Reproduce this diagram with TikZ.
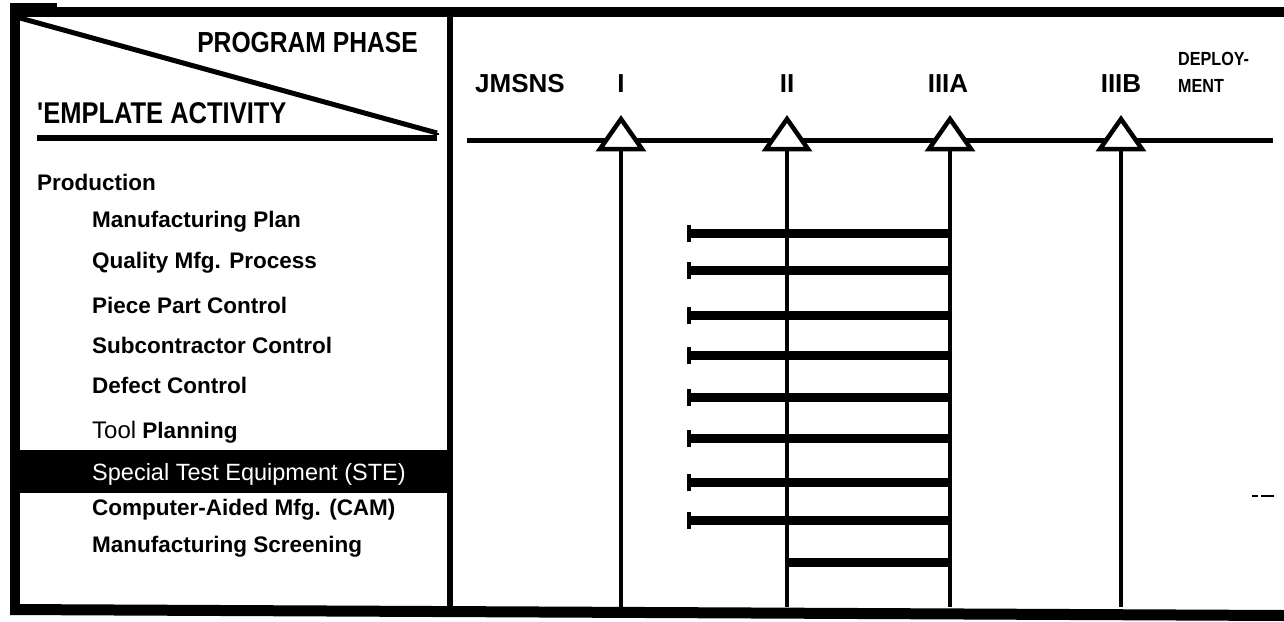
\documentclass[tikz,border=0pt]{standalone}
\usepackage{fontspec}
\newfontfamily\tmfont{Liberation Sans}
\newfontfamily\tmnarrow{Liberation Sans}[FakeStretch=0.85]
\usetikzlibrary{arrows.meta,positioning}

\begin{document}
\begin{tikzpicture}[x=1pt,y=-1pt,
    tmhead/.style={font=\tmnarrow\bfseries\fontsize{29}{34}\selectfont,inner sep=0pt},
    tmitem/.style={font=\tmfont\bfseries\fontsize{22.5}{27}\selectfont,inner sep=0pt,anchor=base west},
    tmphase/.style={font=\tmfont\bfseries\fontsize{26}{31}\selectfont,inner sep=0pt,anchor=base},
    tmsmall/.style={font=\tmnarrow\bfseries\fontsize{19}{23}\selectfont,inner sep=0pt,anchor=base west},
    tmmile/.style={draw,fill=white,line width=4.5pt},
    tmline/.style={line width=3.5pt},
    tmbar/.style={{Bar[width=17pt,line width=4pt]}-,line width=9pt}
]
\useasboundingbox (0,0) rectangle (1284,621);
% frame
\fill (10,3) rectangle (57,17);
\fill (10,7) rectangle (1284,17);
\fill (10,3) rectangle (20,614);
\fill (447,7) rectangle (453,612);
\fill (10,604) -- (1284,610) -- (1284,621) -- (10,615) -- cycle;
% corner heading
\coordinate (hdA) at (20,18);
\coordinate (hdB) at (437,133);
\coordinate (hdC) at (37,138);
\coordinate (hdD) at (437,138);
\draw[line width=5pt] (hdA) -- (hdB);
\draw[line width=6pt] (hdC) -- (hdD);
\draw[line width=3pt] (hdB) -- ([yshift=3pt]hdD);
\node[tmhead,anchor=base east] (phase) at (418,52) {PROGRAM PHASE};
\node[tmhead,font=\tmnarrow\bfseries\fontsize{30}{35}\selectfont,anchor=base west] (activity) at (37,123) {'EMPLATE ACTIVITY};
% activities
\node[tmitem] (prod) at (37,190) {Production};
\node[tmitem] (plan) at (92,227) {Manufacturing Plan};
\node[tmitem] (quality) at (92,268) {Quality Mfg. Process};
\node[tmitem] (piece) at (92,313) {Piece Part Control};
\node[tmitem] (subcon) at (92,353) {Subcontractor Control};
\node[tmitem] (defect) at (92,393) {Defect Control};
\node[tmitem] (tool) at (92,438) {{\mdseries\fontsize{24}{28}\selectfont Tool} Planning};
\fill (20,450) rectangle (447,493);
\node[tmitem,text=white,font=\tmfont\fontsize{23.5}{28}\selectfont] (ste) at (92,480) {Special Test Equipment (STE)};
\node[tmitem] (cam) at (92,515) {Computer-Aided Mfg. (CAM)};
\node[tmitem] (screen) at (92,552) {Manufacturing Screening};
% phases
\node[tmphase,anchor=base west] (jmsns) at (475,92) {JMSNS};
\node[tmphase] (phI) at (621,92) {I};
\node[tmphase] (phII) at (787,92) {II};
\node[tmphase] (phIIIA) at (948,92) {IIIA};
\node[tmphase] (phIIIB) at (1121,92) {IIIB};
\node[tmsmall] (deploy) at (1178,65) {DEPLOY-};
\node[tmsmall] (ment) at (1178,92) {MENT};
\coordinate (tlA) at (467,140);
\coordinate (tlB) at (1273,140);
\draw[line width=5pt] (tlA) -- (tlB);
\coordinate (mI) at (621,150);
\coordinate (mII) at (787,150);
\coordinate (mIIIA) at (950,150);
\coordinate (mIIIB) at (1121,150);
\coordinate (bot) at (0,607);
\draw[tmline] (mI) -- (mI |- bot);
\draw[tmline] (mII) -- (mII |- bot);
\draw[tmline] (mIIIA) -- (mIIIA |- bot);
\draw[tmline] (mIIIB) -- (mIIIB |- bot);
\draw[tmmile] (600,149) -- (621,119) -- (642,149) -- cycle;
\draw[tmmile] (766,149) -- (787,119) -- (808,149) -- cycle;
\draw[tmmile] (929,149) -- (950,119) -- (971,149) -- cycle;
\draw[tmmile] (1100,149) -- (1121,119) -- (1142,149) -- cycle;
% activity bars
\coordinate (s1) at (687,233);
\coordinate (s2) at (687,270);
\coordinate (s3) at (687,315);
\coordinate (s4) at (687,355);
\coordinate (s5) at (687,397);
\coordinate (s6) at (687,438);
\coordinate (s7) at (687,482);
\coordinate (s8) at (687,520);
\coordinate (s9) at (787,562);
\draw[tmbar] (s1) -- (s1 -| mIIIA);
\draw[tmbar] (s2) -- (s2 -| mIIIA);
\draw[tmbar] (s3) -- (s3 -| mIIIA);
\draw[tmbar] (s4) -- (s4 -| mIIIA);
\draw[tmbar] (s5) -- (s5 -| mIIIA);
\draw[tmbar] (s6) -- (s6 -| mIIIA);
\draw[tmbar] (s7) -- (s7 -| mIIIA);
\draw[tmbar] (s8) -- (s8 -| mIIIA);
\draw[line width=9pt] (s9) -- (s9 -| mIIIA);
\draw[line width=2pt] (1252,496) -- (1258,496) (1261,496) -- (1274,496);
\end{tikzpicture}
\end{document}
